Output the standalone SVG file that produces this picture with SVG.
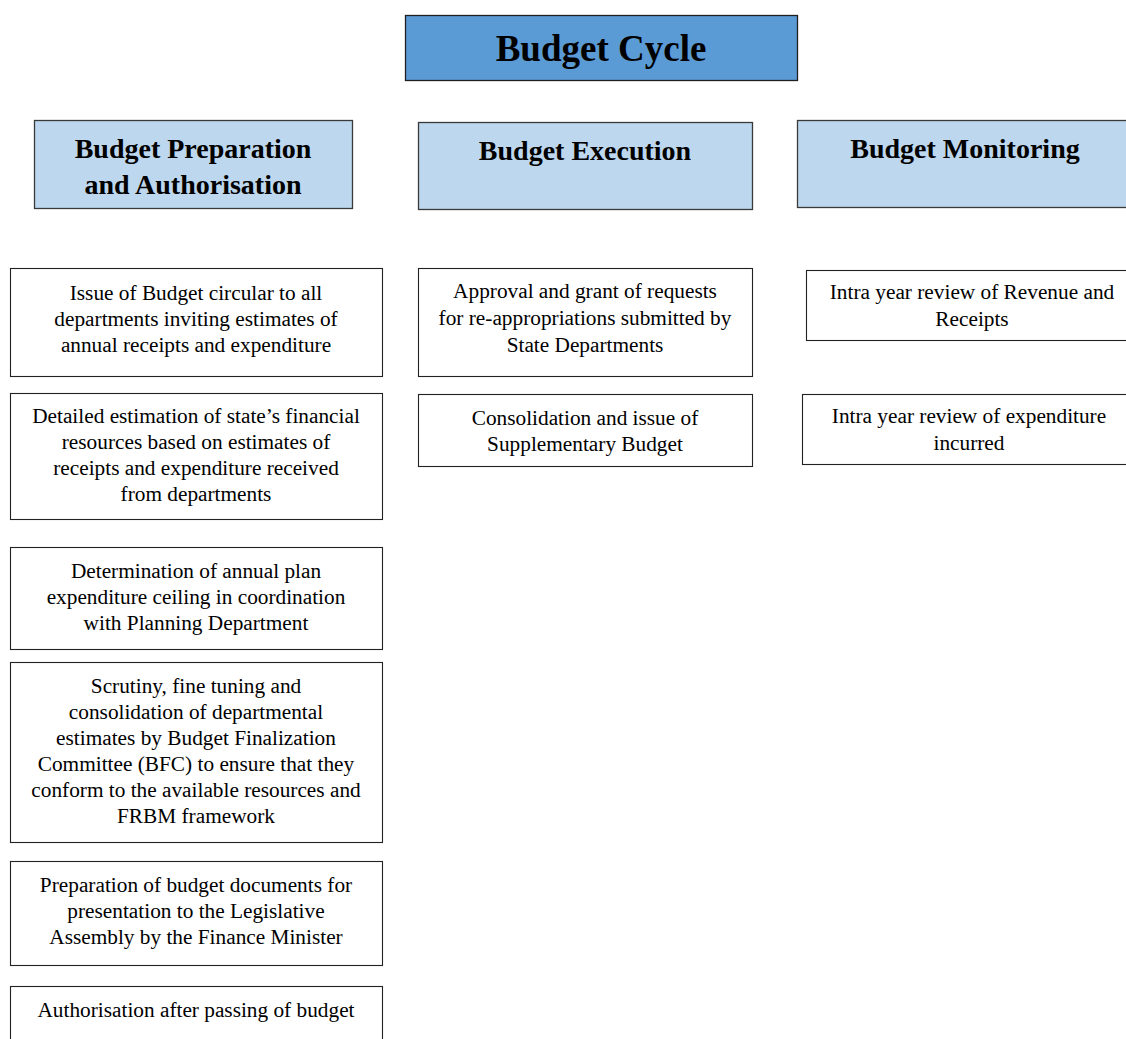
<svg xmlns="http://www.w3.org/2000/svg" width="1126" height="1039" viewBox="0 0 1126 1039">
<style>
.title{fill:#5b9bd5;stroke:#1f1f1f;stroke-width:1.3}
.hdr{fill:#bdd7ee;stroke:#3a3a3a;stroke-width:1.3}
.box{fill:#ffffff;stroke:#222;stroke-width:1.1}
text{font-family:'Liberation Serif',Tinos,'Nimbus Roman','DejaVu Serif',serif;fill:#000;text-anchor:middle}
.t1{font-size:37px;font-weight:bold}
.th{font-size:28px;font-weight:bold}
.tb{font-size:21.3px}
</style>
<rect width="1126" height="1039" fill="#fff"/>
<g id="budget-cycle">
<rect class="title" x="405.5" y="15.5" width="392" height="65"/>
<text class="t1" x="601" y="61">Budget Cycle</text>
</g>
<g id="hdr-preparation">
<rect class="hdr" x="34.5" y="120.5" width="318" height="88"/>
<text class="th" x="193" y="158">Budget Preparation</text>
<text class="th" x="193" y="194">and Authorisation</text>
</g>
<g id="hdr-execution">
<rect class="hdr" x="418.5" y="122.5" width="334" height="87"/>
<text class="th" x="585" y="160">Budget Execution</text>
</g>
<g id="hdr-monitoring">
<rect class="hdr" x="797.5" y="120.5" width="340" height="87"/>
<text class="th" x="965" y="158">Budget Monitoring</text>
</g>
<g id="prep-1">
<rect class="box" x="10.5" y="268.5" width="372" height="108"/>
<text class="tb" x="196" y="300">Issue of Budget circular to all</text>
<text class="tb" x="196" y="326">departments inviting estimates of</text>
<text class="tb" x="196" y="352">annual receipts and expenditure</text>
</g>
<g id="prep-2">
<rect class="box" x="10.5" y="393.5" width="372" height="126"/>
<text class="tb" x="196" y="423">Detailed estimation of state’s financial</text>
<text class="tb" x="196" y="449">resources based on estimates of</text>
<text class="tb" x="196" y="475">receipts and expenditure received</text>
<text class="tb" x="196" y="501">from departments</text>
</g>
<g id="prep-3">
<rect class="box" x="10.5" y="547.5" width="372" height="102"/>
<text class="tb" x="196" y="578">Determination of annual plan</text>
<text class="tb" x="196" y="604">expenditure ceiling in coordination</text>
<text class="tb" x="196" y="630">with Planning Department</text>
</g>
<g id="prep-4">
<rect class="box" x="10.5" y="662.5" width="372" height="180"/>
<text class="tb" x="196" y="693">Scrutiny, fine tuning and</text>
<text class="tb" x="196" y="719">consolidation of departmental</text>
<text class="tb" x="196" y="745">estimates by Budget Finalization</text>
<text class="tb" x="196" y="771">Committee (BFC) to ensure that they</text>
<text class="tb" x="196" y="797">conform to the available resources and</text>
<text class="tb" x="196" y="823">FRBM framework</text>
</g>
<g id="prep-5">
<rect class="box" x="10.5" y="861.5" width="372" height="104"/>
<text class="tb" x="196" y="892">Preparation of budget documents for</text>
<text class="tb" x="196" y="918">presentation to the Legislative</text>
<text class="tb" x="196" y="944">Assembly by the Finance Minister</text>
</g>
<g id="prep-6">
<rect class="box" x="10.5" y="986.5" width="372" height="80"/>
<text class="tb" x="196" y="1017">Authorisation after passing of budget</text>
</g>
<g id="exec-1">
<rect class="box" x="418.5" y="268.5" width="334" height="108"/>
<text class="tb" x="585" y="298">Approval and grant of requests</text>
<text class="tb" x="585" y="325">for re-appropriations submitted by</text>
<text class="tb" x="585" y="352">State Departments</text>
</g>
<g id="exec-2">
<rect class="box" x="418.5" y="394.5" width="334" height="72"/>
<text class="tb" x="585" y="425">Consolidation and issue of</text>
<text class="tb" x="585" y="451">Supplementary Budget</text>
</g>
<g id="mon-1">
<rect class="box" x="806.5" y="270.5" width="332" height="70"/>
<text class="tb" x="972" y="299">Intra year review of Revenue and</text>
<text class="tb" x="972" y="326">Receipts</text>
</g>
<g id="mon-2">
<rect class="box" x="802.5" y="394.5" width="334" height="70"/>
<text class="tb" x="969" y="423">Intra year review of expenditure</text>
<text class="tb" x="969" y="450">incurred</text>
</g>
<g id="connectors"></g>
</svg>
